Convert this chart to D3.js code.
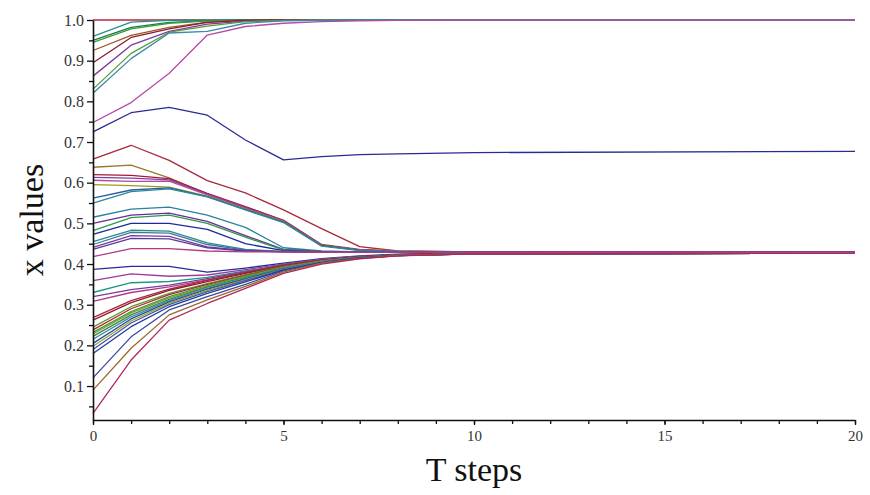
<!DOCTYPE html>
<html>
<head>
<meta charset="utf-8">
<script src="https://cdn.jsdelivr.net/npm/d3@7"></script>
<style>
  body { margin: 0; background: #fff; }
  .tick text { font-family: "Liberation Serif", "Times New Roman", serif; }
</style>
</head>
<body>
<svg id="chart" width="870" height="495"></svg>
<script>
// Time steps at which every trajectory is sampled
const steps = [0, 1, 2, 3, 4, 5, 6, 7, 8, 10, 20];

// Trajectories that settle at 1.0
const upperSeries = [
  [1.000, 1.000, 1.000, 1.000, 1.000, 1.000, 1.000, 1.000, 1.000, 1.000, 1.000],
  [0.960, 0.995, 0.999, 1.000, 1.000, 1.000, 1.000, 1.000, 1.000, 1.000, 1.000],
  [0.950, 0.982, 0.994, 0.998, 1.000, 1.000, 1.000, 1.000, 1.000, 1.000, 1.000],
  [0.945, 0.978, 0.992, 0.998, 0.999, 1.000, 1.000, 1.000, 1.000, 1.000, 1.000],
  [0.925, 0.962, 0.982, 0.995, 0.999, 1.000, 1.000, 1.000, 1.000, 1.000, 1.000],
  [0.895, 0.957, 0.978, 0.994, 0.999, 1.000, 1.000, 1.000, 1.000, 1.000, 1.000],
  [0.862, 0.938, 0.972, 0.990, 0.997, 0.999, 1.000, 1.000, 1.000, 1.000, 1.000],
  [0.830, 0.918, 0.970, 0.985, 0.996, 0.999, 1.000, 1.000, 1.000, 1.000, 1.000],
  [0.820, 0.905, 0.968, 0.972, 0.992, 0.998, 0.999, 1.000, 1.000, 1.000, 1.000],
  [0.748, 0.797, 0.869, 0.963, 0.984, 0.992, 0.996, 0.998, 0.999, 1.000, 1.000]
];
const upperColors = ["#b3263e", "#2a8c8c", "#1e7a46", "#3c9a3c", "#9a5a2a",
                     "#8c1c2c", "#7a3c9c", "#5a9a3a", "#3a8aaa", "#b64aa8"];

// The single trajectory that settles near 0.675
const isolatedSeries = [0.725, 0.772, 0.785, 0.766, 0.705, 0.656, 0.664, 0.669, 0.671, 0.674, 0.677];
const isolatedColor = "#2a2a96";

// Trajectories starting between 0.41 and 0.66 that settle near 0.43
const middleSeries = [
  [0.658, 0.692, 0.655, 0.605, 0.575, 0.533, 0.487, 0.443, 0.432, 0.430, 0.429],
  [0.638, 0.643, 0.612, 0.572, 0.540, 0.508, 0.448, 0.436, 0.432, 0.430, 0.429],
  [0.620, 0.618, 0.610, 0.574, 0.541, 0.507, 0.447, 0.435, 0.431, 0.430, 0.429],
  [0.613, 0.611, 0.607, 0.572, 0.539, 0.506, 0.446, 0.435, 0.431, 0.430, 0.429],
  [0.606, 0.603, 0.604, 0.570, 0.537, 0.505, 0.446, 0.434, 0.431, 0.430, 0.429],
  [0.595, 0.593, 0.589, 0.567, 0.535, 0.504, 0.445, 0.434, 0.431, 0.430, 0.429],
  [0.562, 0.582, 0.587, 0.566, 0.534, 0.503, 0.445, 0.434, 0.431, 0.430, 0.429],
  [0.550, 0.578, 0.585, 0.565, 0.533, 0.502, 0.444, 0.433, 0.431, 0.430, 0.429],
  [0.515, 0.535, 0.540, 0.520, 0.490, 0.440, 0.432, 0.430, 0.430, 0.429, 0.429],
  [0.500, 0.520, 0.525, 0.505, 0.470, 0.436, 0.431, 0.430, 0.430, 0.429, 0.429],
  [0.482, 0.514, 0.520, 0.500, 0.466, 0.435, 0.431, 0.430, 0.430, 0.429, 0.429],
  [0.473, 0.500, 0.500, 0.485, 0.450, 0.433, 0.430, 0.430, 0.429, 0.429, 0.429],
  [0.455, 0.483, 0.481, 0.452, 0.436, 0.431, 0.430, 0.430, 0.429, 0.429, 0.429],
  [0.448, 0.478, 0.476, 0.448, 0.434, 0.431, 0.430, 0.429, 0.429, 0.429, 0.429],
  [0.441, 0.470, 0.468, 0.442, 0.433, 0.430, 0.430, 0.429, 0.429, 0.429, 0.429],
  [0.436, 0.463, 0.462, 0.440, 0.432, 0.430, 0.429, 0.429, 0.429, 0.429, 0.429],
  [0.418, 0.438, 0.438, 0.432, 0.430, 0.430, 0.429, 0.429, 0.429, 0.429, 0.429]
];
const middleColors = ["#a8283a", "#9a7a2a", "#a01c3a", "#8a3a9a", "#b04a9a", "#9a9a1e",
                      "#2a5aa8", "#2a8a9a", "#2a82a0", "#6a2a9a", "#2a9a4a", "#1e2a9a",
                      "#2a8a8a", "#3a7a9a", "#7a3aa0", "#5a3a9a", "#b03a8a"];

// Trajectories starting below 0.4 that settle near 0.427
const lowerSeries = [
  [0.387, 0.394, 0.394, 0.380, 0.390, 0.402, 0.413, 0.420, 0.424, 0.426, 0.427],
  [0.359, 0.376, 0.370, 0.373, 0.386, 0.400, 0.412, 0.419, 0.423, 0.426, 0.427],
  [0.330, 0.354, 0.357, 0.367, 0.383, 0.398, 0.411, 0.419, 0.423, 0.426, 0.427],
  [0.320, 0.337, 0.348, 0.364, 0.381, 0.397, 0.410, 0.418, 0.423, 0.426, 0.427],
  [0.308, 0.330, 0.344, 0.361, 0.380, 0.396, 0.410, 0.418, 0.423, 0.426, 0.427],
  [0.268, 0.310, 0.338, 0.360, 0.379, 0.397, 0.410, 0.418, 0.423, 0.426, 0.427],
  [0.262, 0.305, 0.335, 0.357, 0.377, 0.395, 0.409, 0.418, 0.423, 0.426, 0.427],
  [0.245, 0.295, 0.328, 0.352, 0.374, 0.394, 0.408, 0.417, 0.422, 0.425, 0.427],
  [0.238, 0.290, 0.325, 0.350, 0.372, 0.393, 0.408, 0.417, 0.422, 0.425, 0.427],
  [0.232, 0.283, 0.320, 0.347, 0.370, 0.392, 0.407, 0.417, 0.422, 0.425, 0.427],
  [0.228, 0.280, 0.317, 0.345, 0.369, 0.391, 0.407, 0.416, 0.422, 0.425, 0.427],
  [0.222, 0.275, 0.313, 0.343, 0.367, 0.390, 0.406, 0.416, 0.422, 0.425, 0.427],
  [0.215, 0.270, 0.310, 0.340, 0.365, 0.389, 0.406, 0.416, 0.422, 0.425, 0.427],
  [0.205, 0.265, 0.307, 0.338, 0.363, 0.388, 0.405, 0.416, 0.422, 0.425, 0.427],
  [0.198, 0.260, 0.304, 0.335, 0.361, 0.387, 0.405, 0.415, 0.421, 0.425, 0.427],
  [0.190, 0.255, 0.300, 0.332, 0.359, 0.386, 0.404, 0.415, 0.421, 0.425, 0.427],
  [0.180, 0.246, 0.295, 0.328, 0.356, 0.385, 0.404, 0.415, 0.421, 0.425, 0.427],
  [0.120, 0.221, 0.287, 0.320, 0.350, 0.383, 0.403, 0.414, 0.421, 0.425, 0.427],
  [0.090, 0.193, 0.275, 0.312, 0.345, 0.380, 0.402, 0.414, 0.421, 0.425, 0.427],
  [0.033, 0.164, 0.262, 0.303, 0.340, 0.377, 0.400, 0.413, 0.420, 0.425, 0.427]
];
const lowerColors = ["#2a2a9a", "#a03a9a", "#1e9a8a", "#7a3a9a", "#b03a8a", "#a8283a",
                     "#8c1c2c", "#5a9a2a", "#b02a3a", "#4a9a3a", "#7aa03a", "#3a8a4a",
                     "#3a8aaa", "#2a4aa0", "#a0a02a", "#3a5aaa", "#2a3a9a", "#3a4aa0",
                     "#9a6a2a", "#b0285a"];

// Axis tick values
const xMajorTicks = [0, 5, 10, 15, 20];
const xMinorTicks = d3.range(0, 21, 1);
const yMajorTicks = [0.1, 0.2, 0.3, 0.4, 0.5, 0.6, 0.7, 0.8, 0.9, 1.0];
const yMinorTicks = [0.05, 0.15, 0.25, 0.35, 0.45, 0.55, 0.65, 0.75, 0.85, 0.95];

const xTitle = "T steps";
const yTitle = "x values";

const svg = d3.select("#chart");

const x = d3.scaleLinear().domain([0, 20]).range([93, 855]);
const y = d3.scaleLinear().domain([0.0165, 1]).range([420, 20]);

const line = d3.line()
  .x((d, i) => x(steps[i]))
  .y(d => y(d));

const plot = svg.append("g");

function drawGroup(series, colors) {
  plot.append("g")
    .selectAll("path")
    .data(series)
    .join("path")
    .attr("d", d => line(d))
    .attr("fill", "none")
    .attr("stroke", (d, i) => colors[i % colors.length])
    .attr("stroke-width", 1.3)
    .attr("stroke-linejoin", "round");
}

drawGroup(lowerSeries, lowerColors);
drawGroup(middleSeries, middleColors);
drawGroup([isolatedSeries], [isolatedColor]);
drawGroup(upperSeries, upperColors);

// Y axis: labelled major ticks plus unlabelled minor ticks
const yAxis = svg.append("g")
  .attr("transform", `translate(${x(0)},0)`)
  .call(d3.axisLeft(y).tickValues(yMajorTicks).tickFormat(d3.format(".1f"))
    .tickSize(6).tickSizeOuter(0).tickPadding(3));
yAxis.selectAll(".tick text")
  .attr("font-size", 16).attr("fill", "#333");
svg.append("g")
  .attr("transform", `translate(${x(0)},0)`)
  .call(d3.axisLeft(y).tickValues(yMinorTicks).tickFormat("").tickSize(4).tickSizeOuter(0))
  .call(g => g.select(".domain").remove());

// X axis
const xAxis = svg.append("g")
  .attr("transform", `translate(0,${y.range()[0]})`)
  .call(d3.axisBottom(x).tickValues(xMajorTicks).tickFormat(d3.format("d"))
    .tickSize(5).tickSizeOuter(0).tickPadding(5));
xAxis.selectAll(".tick text")
  .attr("font-size", 15).attr("fill", "#333");
svg.append("g")
  .attr("transform", `translate(0,${y.range()[0]})`)
  .call(d3.axisBottom(x).tickValues(xMinorTicks).tickFormat("").tickSize(4).tickSizeOuter(0))
  .call(g => g.select(".domain").remove());

svg.selectAll(".domain").attr("stroke", "#111").attr("stroke-width", 1.6);
svg.selectAll(".tick line").attr("stroke", "#111").attr("stroke-width", 1.3);

// Axis titles
svg.append("text")
  .attr("x", (x.range()[0] + x.range()[1]) / 2)
  .attr("y", 481)
  .attr("text-anchor", "middle")
  .attr("font-family", "'Liberation Serif', 'Times New Roman', serif")
  .attr("font-size", 34)
  .attr("fill", "#111")
  .text(xTitle);

svg.append("text")
  .attr("transform", `translate(43,${(y.range()[0] + y.range()[1]) / 2}) rotate(-90)`)
  .attr("text-anchor", "middle")
  .attr("font-family", "'Liberation Serif', 'Times New Roman', serif")
  .attr("font-size", 34)
  .attr("fill", "#111")
  .text(yTitle);
</script>
</body>
</html>
